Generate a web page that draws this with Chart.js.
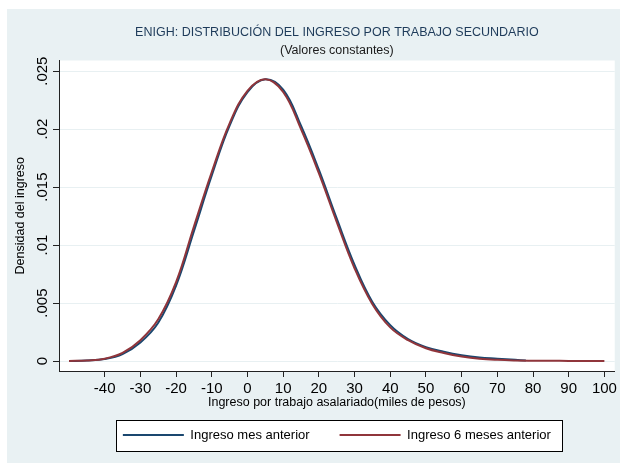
<!DOCTYPE html>
<html>
<head>
<meta charset="utf-8">
<script src="https://cdn.jsdelivr.net/npm/chart.js@4.4.1/dist/chart.umd.min.js"></script>
<style>
  html, body { margin: 0; padding: 0; background: #ffffff; }
  #wrap { width: 620px; height: 468px; }
</style>
</head>
<body>
<div id="wrap"><canvas id="densityChart" width="620" height="468"></canvas></div>
<script>
// valores (densidad estimada)
const xRed = [-50, -45, -40, -35, -30, -25, -20, -15, -10, -5, 0, 5, 10, 15, 20, 25, 30, 35, 40, 45, 50, 55, 60, 65, 70, 75, 80, 85, 90, 95, 100];
const yRed = [0, 0.00005, 0.0002, 0.0007, 0.0018, 0.0036, 0.0068, 0.0116, 0.0163, 0.0205, 0.0233, 0.0243, 0.0232, 0.0200, 0.0162, 0.0120, 0.0080, 0.0049, 0.0029, 0.0018, 0.0011, 0.0007, 0.0004, 0.0002, 0.0001, 0.00005, 0.00003, 0.00002, 0.00001, 0, 0];
const xBlue = [-50, -45, -40, -35, -30, -25, -20, -15, -10, -5, 0, 5, 10, 15, 20, 25, 30, 35, 40, 45, 50, 55, 60, 65, 70, 75, 78];
const yBlue = [0, 0.00004, 0.00017, 0.0006, 0.0016, 0.0033, 0.0065, 0.0112, 0.0160, 0.0203, 0.0232, 0.0243, 0.0234, 0.0203, 0.0165, 0.0123, 0.0083, 0.0051, 0.0031, 0.0019, 0.0012, 0.0008, 0.0005, 0.0003, 0.0002, 0.0001, 0.00005];

const seriesNames = ['Ingreso mes anterior', 'Ingreso 6 meses anterior'];
const xTicks = [-40, -30, -20, -10, 0, 10, 20, 30, 40, 50, 60, 70, 80, 90, 100];
const yTicks = [0, 0.005, 0.01, 0.015, 0.02, 0.025];
const yTickLabels = ['0', '.005', '.01', '.015', '.02', '.025'];

const FONT = 'Liberation Sans, Arial, sans-serif';
const PANEL = '#e9f1f3';

function toPoints(xs, ys) {
    return xs.map((x, i) => ({ x: x, y: ys[i] }));
}

// fondo gris del grafico y area blanca, mas el marco de la leyenda
const stataBackground = {
    id: 'stataBackground',
    beforeDraw(chart) {
        const ctx = chart.ctx;
        const a = chart.chartArea;
        ctx.save();
        ctx.fillStyle = '#ffffff';
        ctx.fillRect(0, 0, chart.width, chart.height);
        ctx.fillStyle = PANEL;
        ctx.fillRect(7, 9, chart.width - 7, chart.height - 14);
        ctx.fillStyle = '#ffffff';
        ctx.fillRect(a.left, a.top, a.right - a.left, a.bottom - a.top);

        const boxes = chart.legend && chart.legend.legendHitBoxes;
        if (boxes && boxes.length) {
            const first = boxes[0];
            const last = boxes[boxes.length - 1];
            const x0 = Math.round(first.left - 7) + 0.5;
            const x1 = Math.round(last.left + last.width + 11) + 0.5;
            const y0 = Math.round(first.top - 8.5) + 0.5;
            const y1 = Math.round(first.top + first.height + 9) + 0.5;
            ctx.fillStyle = '#ffffff';
            ctx.fillRect(x0, y0, x1 - x0, y1 - y0);
            ctx.strokeStyle = '#000000';
            ctx.lineWidth = 1;
            ctx.strokeRect(x0, y0, x1 - x0, y1 - y0);
        }
        ctx.restore();
    }
};

const ctx = document.getElementById('densityChart').getContext('2d');

new Chart(ctx, {
    type: 'line',
    data: {
        datasets: [{
            label: seriesNames[0],
            data: toPoints(xBlue, yBlue),
            borderColor: '#1a476f',
            backgroundColor: '#1a476f',
            borderWidth: 2,
            pointRadius: 0,
            tension: 0.4,
            order: 1
        }, {
            label: seriesNames[1],
            data: toPoints(xRed, yRed),
            borderColor: '#90353b',
            backgroundColor: '#90353b',
            borderWidth: 2,
            pointRadius: 0,
            tension: 0.4,
            order: 0
        }]
    },
    options: {
        responsive: false,
        animation: false,
        layout: {
            padding: { left: 7, right: 3, top: 0, bottom: 16.5 }
        },
        scales: {
            x: {
                type: 'linear',
                min: -52.8,
                max: 102.9,
                afterBuildTicks: (scale) => { scale.ticks = xTicks.map(v => ({ value: v })); },
                afterFit: (scale) => { scale.height = 27.5; },
                ticks: {
                    maxRotation: 0,
                    minRotation: 0,
                    padding: 3,
                    color: '#000000',
                    font: { family: FONT, size: 15 },
                    callback: (value) => String(value)
                },
                grid: {
                    drawOnChartArea: false,
                    tickLength: 6,
                    tickColor: '#222222'
                },
                border: { color: '#222222', width: 1 },
                title: {
                    display: true,
                    text: 'Ingreso por trabajo asalariado(miles de pesos)',
                    color: '#000000',
                    font: { family: FONT, size: 12.5 },
                    padding: { top: 0, bottom: -12 }
                }
            },
            y: {
                min: -0.00086,
                max: 0.02592,
                afterBuildTicks: (scale) => { scale.ticks = yTicks.map(v => ({ value: v })); },
                afterFit: (scale) => { scale.width = 52; },
                ticks: {
                    minRotation: 90,
                    maxRotation: 90,
                    crossAlign: 'center',
                    padding: -4.5,
                    color: '#000000',
                    font: { family: FONT, size: 15 },
                    callback: (value, index) => yTickLabels[index]
                },
                grid: {
                    color: '#e8f0f2',
                    lineWidth: 1,
                    tickLength: 6,
                    tickColor: '#222222'
                },
                border: { color: '#222222', width: 1 },
                title: {
                    display: true,
                    text: 'Densidad del ingreso',
                    color: '#000000',
                    font: { family: FONT, size: 12.5 },
                    padding: { top: 6, bottom: 0 }
                }
            }
        },
        plugins: {
            title: {
                display: true,
                fullSize: false,
                text: 'ENIGH: DISTRIBUCIÓN DEL INGRESO POR TRABAJO SECUNDARIO',
                color: '#1e3b5a',
                font: { family: FONT, size: 12.5, weight: 'normal' },
                padding: { top: 25, bottom: 1.5 }
            },
            subtitle: {
                display: true,
                fullSize: false,
                text: '(Valores constantes)',
                color: '#1a1a1a',
                font: { family: FONT, size: 12.5 },
                padding: { top: 2, bottom: 2 }
            },
            legend: {
                position: 'bottom',
                fullSize: false,
                labels: {
                    boxWidth: 61,
                    boxHeight: 2,
                    padding: 30,
                    color: '#000000',
                    font: { family: FONT, size: 13 },
                    sort: (a, b) => a.datasetIndex - b.datasetIndex,
                    generateLabels: (chart) => Chart.defaults.plugins.legend.labels.generateLabels(chart)
                        .map(item => Object.assign(item, { lineWidth: 0, fillStyle: item.strokeStyle }))
                }
            },
            tooltip: { enabled: false }
        }
    },
    plugins: [stataBackground]
});
</script>
</body>
</html>
